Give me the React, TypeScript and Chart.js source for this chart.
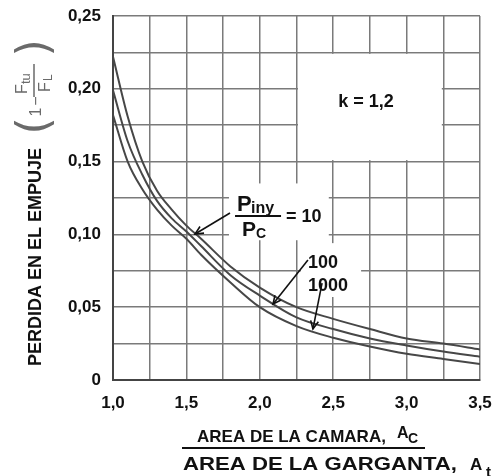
import React, { useEffect, useRef } from 'react';
import { Chart, registerables } from 'chart.js';

Chart.register(...registerables);

// ---- data ----
const xValues = [1.0, 1.1, 1.2, 1.3, 1.4, 1.5, 1.6, 1.8, 2.0, 2.25, 2.5, 2.75, 3.0, 3.25, 3.5];
const ratio10 = [0.222, 0.181, 0.150, 0.130, 0.117, 0.106, 0.097, 0.078, 0.0635, 0.050, 0.042, 0.035, 0.0285, 0.025, 0.021];
const ratio100 = [0.199, 0.164, 0.141, 0.123, 0.111, 0.102, 0.092, 0.072, 0.058, 0.043, 0.035, 0.0285, 0.0237, 0.0195, 0.016];
const ratio1000 = [0.182, 0.150, 0.131, 0.117, 0.106, 0.097, 0.086, 0.067, 0.050, 0.037, 0.029, 0.023, 0.018, 0.0145, 0.011];
const seriesNames = ['10', '100', '1000'];
const xTickLabels = ['1,0', '1,5', '2,0', '2,5', '3,0', '3,5'];
const yTickLabels = ['0', '0,05', '0,10', '0,15', '0,20', '0,25'];

const FONT = '"Liberation Sans", Arial, sans-serif';
const LINE_COLOR = '#474747';
const GRID_COLOR = '#7a7a7a';

function px(chart: any, x: number) {
  return chart.scales.x.getPixelForValue(x);
}
function py(chart: any, y: number) {
  return chart.scales.y.getPixelForValue(y);
}

function arrow(ctx: CanvasRenderingContext2D, x1: number, y1: number, x2: number, y2: number) {
  ctx.save();
  ctx.strokeStyle = '#111';
  ctx.lineWidth = 1.6;
  ctx.beginPath();
  ctx.moveTo(x1, y1);
  ctx.lineTo(x2, y2);
  ctx.stroke();
  const a = Math.atan2(y2 - y1, x2 - x1);
  const L = 9;
  const s = 0.45;
  ctx.beginPath();
  ctx.moveTo(x2 - L * Math.cos(a - s), y2 - L * Math.sin(a - s));
  ctx.lineTo(x2, y2);
  ctx.lineTo(x2 - L * Math.cos(a + s), y2 - L * Math.sin(a + s));
  ctx.stroke();
  ctx.restore();
}

const blankPlugin = {
  id: 'blankAreas',
  beforeDatasetsDraw(chart: any) {
    const ctx = chart.ctx as CanvasRenderingContext2D;
    ctx.save();
    ctx.fillStyle = '#ffffff';
    const rect = (x1: number, x2: number, y1: number, y2: number, inset: number) => {
      const l = px(chart, x1) + inset;
      const r = px(chart, x2) - inset;
      const t = py(chart, y2) + inset;
      const b = py(chart, y1) - inset;
      ctx.fillRect(l, t, r - l, b - t);
    };
    rect(2.25, 3.25, 0.15, 0.225, 1.5);
    rect(1.79, 2.47, 0.096, 0.135, 0);
    rect(2.28, 2.69, 0.057, 0.094, 0);
    ctx.restore();
  },
};

const annotationPlugin = {
  id: 'annotations',
  afterDraw(chart: any) {
    const ctx = chart.ctx as CanvasRenderingContext2D;
    ctx.save();
    ctx.fillStyle = '#111';
    ctx.textBaseline = 'alphabetic';

    // k = 1,2
    ctx.font = `bold 18px ${FONT}`;
    ctx.textAlign = 'center';
    ctx.textBaseline = 'middle';
    ctx.fillText('k = 1,2', px(chart, 2.723), py(chart, 0.191));

    // Piny / Pc = 10
    const bx = px(chart, 1.988);
    const by = py(chart, 0.1126);
    ctx.textAlign = 'left';
    ctx.textBaseline = 'alphabetic';
    ctx.font = `bold 22px ${FONT}`;
    ctx.fillText('P', bx - 21, by - 5);
    ctx.font = `bold 16px ${FONT}`;
    ctx.fillText('iny', bx - 7, by - 3);
    ctx.font = `bold 21px ${FONT}`;
    ctx.fillText('P', bx - 16, by + 20);
    ctx.font = `bold 14px ${FONT}`;
    ctx.fillText('C', bx - 2, by + 22);
    ctx.font = `bold 18px ${FONT}`;
    ctx.textBaseline = 'middle';
    ctx.fillText('= 10', bx + 28, by + 1);
    ctx.strokeStyle = '#111';
    ctx.lineWidth = 2;
    ctx.beginPath();
    ctx.moveTo(bx - 23, by);
    ctx.lineTo(bx + 23, by);
    ctx.stroke();

    // 100 / 1000 labels
    ctx.textBaseline = 'alphabetic';
    ctx.font = `bold 18px ${FONT}`;
    ctx.fillText(seriesNames[1], px(chart, 2.328), py(chart, 0.0767));
    ctx.fillText(seriesNames[2], px(chart, 2.328), py(chart, 0.0611));

    // arrows
    arrow(ctx, px(chart, 1.797), py(chart, 0.1147), px(chart, 1.559), py(chart, 0.1003));
    arrow(ctx, px(chart, 2.328), py(chart, 0.0824), px(chart, 2.09), py(chart, 0.0522));
    arrow(ctx, px(chart, 2.424), py(chart, 0.0666), px(chart, 2.362), py(chart, 0.035));

    // y-axis title
    ctx.save();
    ctx.translate(36, 257);
    ctx.rotate(-Math.PI / 2);
    ctx.textAlign = 'center';
    ctx.textBaseline = 'middle';
    ctx.font = `bold 18px ${FONT}`;
    ctx.fillText('PERDIDA EN EL EMPUJE', 0, 0);
    ctx.restore();

    // (1 - Ftu / FL)
    ctx.save();
    ctx.translate(37, 88);
    ctx.rotate(-Math.PI / 2);
    ctx.fillStyle = '#6a6a6a';
    ctx.strokeStyle = '#6a6a6a';
    ctx.textBaseline = 'middle';
    ctx.textAlign = 'center';
    ctx.font = `44px "DejaVu Sans", ${FONT}`;
    ctx.fillText('(', -38, 0);
    ctx.fillText(')', 40, 0);
    ctx.font = `16px ${FONT}`;
    ctx.fillText('1', -24, 0);
    ctx.fillText('\u2212', -13, 0);
    ctx.textAlign = 'left';
    ctx.font = `16px ${FONT}`;
    ctx.fillText('F', -6, -14);
    ctx.font = `13px ${FONT}`;
    ctx.fillText('tu', 4, -11);
    ctx.font = `16px ${FONT}`;
    ctx.fillText('F', -4, 9);
    ctx.font = `12px ${FONT}`;
    ctx.fillText('L', 7, 12);
    ctx.lineWidth = 1.5;
    ctx.beginPath();
    ctx.moveTo(-9, -3);
    ctx.lineTo(24, -3);
    ctx.stroke();
    ctx.restore();

    // x-axis title (fraction)
    ctx.fillStyle = '#111';
    ctx.textAlign = 'left';
    ctx.textBaseline = 'alphabetic';
    ctx.font = `bold 17px ${FONT}`;
    ctx.fillText('AREA DE LA CAMARA,', 197, 442);
    ctx.font = `bold 16px ${FONT}`;
    ctx.fillText('A', 397, 438);
    ctx.font = `bold 14px ${FONT}`;
    ctx.fillText('C', 408, 443);
    ctx.strokeStyle = '#111';
    ctx.lineWidth = 2;
    ctx.beginPath();
    ctx.moveTo(182, 448);
    ctx.lineTo(425, 448);
    ctx.stroke();
    ctx.font = `bold 19px ${FONT}`;
    const bottomText = 'AREA DE LA GARGANTA,';
    const w = ctx.measureText(bottomText).width;
    ctx.save();
    ctx.translate(183, 470);
    ctx.scale(274 / w, 1);
    ctx.fillText(bottomText, 0, 0);
    ctx.restore();
    ctx.font = `bold 17px ${FONT}`;
    ctx.fillText('A', 470, 470);
    ctx.font = `bold 15px ${FONT}`;
    ctx.fillText('t', 486, 477);

    ctx.restore();
  },
};

export default function App() {
  const canvasRef = useRef<HTMLCanvasElement | null>(null);

  useEffect(() => {
    const canvas = canvasRef.current;
    if (!canvas) return;
    const mk = (ys: number[], name: string) => ({
      label: name,
      data: xValues.map((x, i) => ({ x, y: ys[i] })),
      borderColor: LINE_COLOR,
      backgroundColor: LINE_COLOR,
      borderWidth: 2,
      pointRadius: 0,
      cubicInterpolationMode: 'monotone' as const,
      fill: false,
    });
    const chart = new Chart(canvas, {
      type: 'line',
      data: {
        datasets: [mk(ratio10, seriesNames[0]), mk(ratio100, seriesNames[1]), mk(ratio1000, seriesNames[2])],
      },
      options: {
        animation: false,
        responsive: false,
        maintainAspectRatio: false,
        layout: { padding: { left: 0, top: 16, right: 17, bottom: 0 } },
        plugins: { legend: { display: false }, tooltip: { enabled: false } },
        scales: {
          x: {
            type: 'linear',
            min: 1,
            max: 3.5,
            afterFit: (s: any) => {
              s.height = 96;
              s.paddingLeft = 0;
              s.paddingRight = 0;
            },
            ticks: {
              stepSize: 0.25,
              padding: 13,
              color: '#111',
              font: { family: FONT, size: 17, weight: 'bold' },
              maxRotation: 0,
              autoSkip: false,
              callback: (_v: any, i: number) => (i % 2 === 0 ? xTickLabels[i / 2] : ''),
            },
            grid: { color: GRID_COLOR, lineWidth: 1.5, drawTicks: false },
            border: { color: '#444', width: 2 },
          },
          y: {
            type: 'linear',
            min: 0,
            max: 0.25,
            afterFit: (s: any) => {
              s.width = 113;
              s.paddingTop = 0;
              s.paddingBottom = 0;
            },
            ticks: {
              stepSize: 0.025,
              padding: 12,
              color: '#111',
              font: { family: FONT, size: 17, weight: 'bold' },
              autoSkip: false,
              callback: (_v: any, i: number) => (i % 2 === 0 ? yTickLabels[i / 2] : ''),
            },
            grid: { color: GRID_COLOR, lineWidth: 1.5, drawTicks: false },
            border: { color: '#444', width: 2 },
          },
        },
      },
      plugins: [blankPlugin, annotationPlugin],
    });
    return () => chart.destroy();
  }, []);

  return (
    <div style={{ position: 'absolute', left: 0, top: 0, width: 497, height: 476, background: '#fff' }}>
      <canvas ref={canvasRef} width={497} height={476} style={{ display: 'block' }} />
    </div>
  );
}
